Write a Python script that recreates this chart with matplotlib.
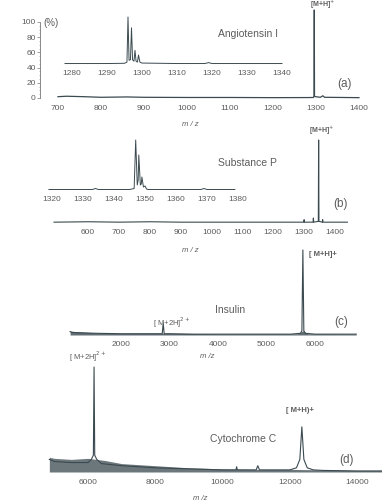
import matplotlib
matplotlib.use('Agg')
import matplotlib.pyplot as plt

W, H = 382, 504

# ---- data (m/z, relative intensity) ----
# (a) Angiotensin I, full range
a_mz = [700, 720, 760, 800, 860, 900, 1000, 1100, 1200, 1280, 1294, 1295.5, 1296, 1296.5, 1299, 1310, 1316, 1320, 1400]
a_int = [1.5, 2, 1.5, 0.8, 1.2, 0.8, 0.6, 0.6, 0.4, 0.5, 0.6, 2, 100, 2, 1.5, 0.8, 2.5, 0.8, 0.4]
# (a) inset, isotope cluster
ai_mz = [1278, 1290, 1295, 1295.7, 1296, 1296.3, 1296.7, 1297, 1297.3, 1297.7, 1298, 1298.3, 1298.7, 1299, 1299.4, 1300, 1310, 1318, 1319, 1320, 1330, 1340]
ai_int = [1, 1, 1.5, 4, 100, 8, 9, 77, 9, 6, 29, 6, 4, 19, 4, 2, 1, 1, 3, 1, 1, 1]
# (b) Substance P, full range
b_mz = [490, 600, 700, 800, 900, 1000, 1100, 1200, 1290, 1299, 1300, 1301, 1320, 1329, 1330, 1331, 1346, 1347, 1348, 1359, 1360, 1361, 1380, 1440]
b_int = [1, 1.5, 1, 1.5, 1, 1, 1, 1, 1, 1, 4, 1, 1, 1, 6, 1, 2, 100, 2, 1, 4, 1, 1, 1]
# (b) inset, isotope cluster
bi_mz = [1319, 1333, 1334, 1335, 1336, 1345, 1346.5, 1347, 1347.5, 1347.8, 1348, 1348.5, 1348.8, 1349, 1349.5, 1350, 1350.5, 1351, 1368, 1369, 1370, 1379]
bi_int = [1, 1, 3, 1, 1, 1, 3, 100, 10, 20, 70, 10, 12, 26, 6, 8, 2, 1, 1, 3, 1, 1]
# (c) Insulin
c_mz = [950, 1000, 1200, 1500, 2000, 2500, 2850, 2870, 2890, 3000, 3500, 4000, 4500, 5000, 5500, 5700, 5730, 5750, 5770, 5800, 6000, 6500, 6850]
c_int = [4, 3, 2.5, 2, 1.5, 1.5, 1.5, 14, 1.5, 1.5, 1, 1, 1, 1, 1, 2, 5, 100, 5, 2, 1, 1, 1]
c_env_mz = [950, 1200, 1500, 2000, 3000, 4000, 5000, 5650, 5750, 5850, 6000, 6850]
c_env_hi = [4.5, 3.5, 2.5, 2, 2, 1.5, 1.5, 1.5, 5, 1.5, 1.5, 1.2]
# (d) Cytochrome C
d_mz = [4850, 5000, 5500, 6000, 6100, 6160, 6180, 6200, 6260, 6400, 7000, 7500, 8000, 9000, 10000, 10400,
        10420, 10440, 11000, 11050, 11100, 12000, 12200, 12300, 12360, 12420, 12520, 12700, 13000, 14000, 14750]
d_int = [12, 10, 9, 9, 12, 16, 100, 16, 12, 8, 6, 5, 4, 3, 2, 2,
         5, 2, 2, 6, 2, 2, 4, 12, 43, 12, 4, 2, 1.5, 1, 1]
d_env_mz = [4850, 5000, 5500, 6000, 6500, 7000, 7500, 8000, 8500, 9000, 10000, 11000, 12000, 13000, 14000, 14750]
d_env_hi = [14, 13, 12, 13, 11, 8, 7, 6, 5, 4, 3, 2.5, 2.5, 2, 1.5, 1.5]

a_ticks = [700, 800, 900, 1000, 1100, 1200, 1300, 1400]
ai_ticks = [1280, 1290, 1300, 1310, 1320, 1330, 1340]
b_ticks = [600, 700, 800, 900, 1000, 1100, 1200, 1300, 1400]
bi_ticks = [1320, 1330, 1340, 1350, 1360, 1370, 1380]
c_ticks = [2000, 3000, 4000, 5000, 6000]
d_ticks = [6000, 8000, 10000, 12000, 14000]
pct_ticks = [0, 20, 40, 60, 80, 100]

LINE = '#3b4a50'
TXT = '#5c5c5c'
plt.rcParams['font.family'] = ['Liberation Sans', 'DejaVu Sans']

fig = plt.figure(figsize=(W / 100, H / 100), dpi=100)


def px_axes(x0, y0, x1, y1):
    return fig.add_axes([x0 / W, 1 - y1 / H, (x1 - x0) / W, (y1 - y0) / H])


def spec_axes(x0, x1, ybase, ytop, v1, p1, v2, p2, ticks, pad=3.5):
    # axes whose x scale puts value v1 at pixel p1 and v2 at p2
    ax = px_axes(x0, ytop, x1, ybase)
    s = (p2 - p1) / (v2 - v1)
    ax.set_xlim(v1 + (x0 - p1) / s, v1 + (x1 - p1) / s)
    ax.set_ylim(0, 100)
    for sp in ax.spines.values():
        sp.set_visible(False)
    ax.set_yticks([])
    ax.set_xticks(ticks)
    ax.tick_params(axis='x', length=0, pad=pad, labelsize=6, labelcolor=TXT)
    ax.patch.set_alpha(0)
    return ax


def label(x, y, s, size=6, **kw):
    fig.text(x / W, 1 - y / H, s, ha='center', va='center', fontsize=size, color=TXT, **kw)


# ---------- (a) ----------
ay = px_axes(30, 22, 40, 98)
ay.set_ylim(0, 100)
ay.set_xlim(0, 1)
ay.set_yticks(pct_ticks)
ay.set_yticks(range(0, 101, 5), minor=True)
for k in ['top', 'right', 'bottom']:
    ay.spines[k].set_visible(False)
ay.spines['left'].set_position(('axes', 1.0))
ay.spines['left'].set_color('#777777')
ay.spines['left'].set_linewidth(0.6)
ay.spines['left'].set_linestyle((0, (1, 1)))
ay.set_xticks([])
ay.tick_params(axis='y', length=2, width=0.5, color='#777777', labelsize=6, labelcolor=TXT, pad=1)
ay.tick_params(axis='y', which='minor', length=1, width=0.4, color='#777777')
ay.patch.set_alpha(0)
label(51, 23, '(%)', size=7)

ax = spec_axes(55, 365, 98, 10, 700, 58, 1400, 359, a_ticks, pad=5)
ax.plot(a_mz, a_int, color=LINE, lw=0.9, clip_on=False)
axi = spec_axes(64, 286, 64, 17, 1280, 72, 1340, 282, ai_ticks, pad=4)
axi.plot(ai_mz, ai_int, color=LINE, lw=0.7, clip_on=False)
label(248, 34, 'Angiotensin I', size=7.5)
label(323, 5, r'[M+H]$^{+}$', size=5, fontweight='bold')
label(344, 84, '(a)', size=8.5)
label(190, 124, 'm / z', size=5.5, style='italic')

# ---------- (b) ----------
bx = spec_axes(48, 360, 223, 140, 600, 88, 1400, 335, b_ticks, pad=4)
bx.plot(b_mz, b_int, color=LINE, lw=0.8, clip_on=False)
bxi = spec_axes(44, 240, 190, 140, 1320, 52, 1380, 238, bi_ticks, pad=4)
bxi.plot(bi_mz, bi_int, color=LINE, lw=0.7, clip_on=False)
label(247, 163, 'Substance P', size=7.5)
label(322, 131, r'[M+H]$^{+}$', size=5, fontweight='bold')
label(340, 204, '(b)', size=8.5)
label(190, 250, 'm / z', size=5.5, style='italic')

# ---------- (c) ----------
cx = spec_axes(66, 360, 335, 250, 2000, 121, 6000, 315, c_ticks, pad=4)
cx.fill_between(c_env_mz, 0, c_env_hi, color=LINE, alpha=0.8, lw=0, clip_on=False)
cx.plot(c_mz, c_int, color=LINE, lw=0.8, clip_on=False)
label(323, 255, '[ M+H]+', size=5.5, fontweight='bold')
label(230, 310, 'Insulin', size=7.5)
label(172, 323, r'[ M+2H]$^{2+}$', size=5.5)
label(341, 322, '(c)', size=8.5)
label(207, 356, 'm /z', size=5.5, style='italic')

# ---------- (d) ----------
dx = spec_axes(47, 382, 472, 367, 6000, 88, 14000, 357, d_ticks, pad=5)
dx.fill_between(d_env_mz, 0, d_env_hi, color=LINE, alpha=0.75, lw=0, clip_on=False)
dx.plot(d_mz, d_int, color=LINE, lw=0.8, clip_on=False)
label(88, 357, r'[ M+2H]$^{2+}$', size=5.5)
label(300, 411, '[ M+H)+', size=5.5, fontweight='bold')
label(243, 439, 'Cytochrome C', size=7.5)
label(346, 460, '(d)', size=8.5)
label(200, 499, 'm /z', size=5.5, style='italic')

fig.savefig('out.png', dpi=100)
